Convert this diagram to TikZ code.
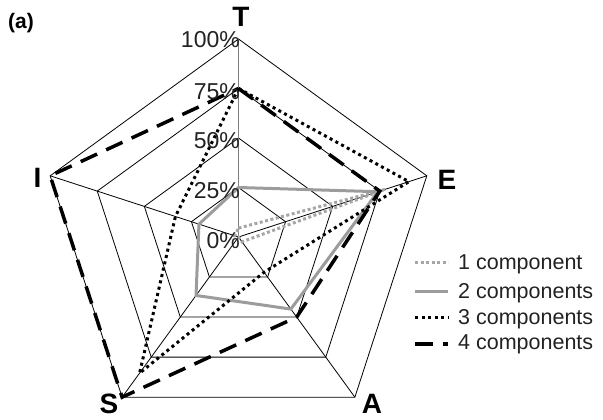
\documentclass[tikz,border=0pt]{standalone}
\usepackage{fontspec}
\setmainfont{Liberation Sans}
\definecolor{lgray}{HTML}{A6A6A6}
\definecolor{mgray}{HTML}{9C9C9C}
\definecolor{txt}{HTML}{222222}
\tikzset{
  gridline/.style={black,line width=0.8pt},
  vaxis/.style={gray,line width=1pt},
  compone/.style={lgray,line width=3pt,dash pattern=on 3pt off 2.5pt},
  comptwo/.style={mgray,line width=3pt},
  compthree/.style={black,line width=3pt,dash pattern=on 3pt off 3.5pt},
  compfour/.style={black,line width=3.5pt,dash pattern=on 18pt off 10pt},
  pct/.style={anchor=east,inner sep=0pt,text=txt,font=\fontsize{23}{27}\selectfont},
  axlab/.style={inner sep=0pt,font=\fontsize{28}{32}\selectfont\bfseries},
  legtext/.style={anchor=west,inner sep=0pt,text=txt,font=\fontsize{21.5}{25}\selectfont}
}
\begin{document}
\begin{tikzpicture}[x=1pt,y=1pt]
\useasboundingbox (-238.5,-183) rectangle (364.5,237);
\def\R{198}
\coordinate (C) at (0,0);
% grid pentagons
\foreach \f in {0.25,0.5,0.75,1}{
  \draw[gridline] (90:{\f*\R}) -- (18:{\f*\R}) -- (-54:{\f*\R}) -- (-126:{\f*\R}) -- (162:{\f*\R}) -- cycle;
}
% spokes
\foreach \a in {18,-54,-126,162}{
  \draw[gridline] (C) -- (\a:\R);
}
\draw[vaxis] (C) -- (90:\R);
% data series
\draw[compone] (90:{0.045*\R}) -- (18:{0.78*\R}) -- (-54:{0.03*\R}) -- (-126:{0.0*\R}) -- (162:{0.02*\R}) -- cycle;
\draw[comptwo] (90:{0.25*\R}) -- (18:{0.74*\R}) -- (-54:{0.45*\R}) -- (-126:{0.365*\R}) -- (162:{0.21*\R}) -- cycle;
\draw[compthree] (90:{0.75*\R}) -- (18:{0.905*\R}) -- (-54:{0.22*\R}) -- (-126:{0.85*\R}) -- (162:{0.335*\R}) -- cycle;
\draw[compfour] (90:{0.75*\R}) -- (18:{0.75*\R}) -- (-54:{0.5*\R}) -- (-126:{1.0*\R}) -- (162:{1.0*\R}) -- cycle;
% percent labels
\node[pct] (p0) at (1.5,-4) {0\%};
\node[pct] (p25) at (1.5,{0.25*\R-3}) {25\%};
\node[pct] (p50) at (1.5,{0.5*\R-3}) {50\%};
\node[pct] (p75) at (1.5,{0.75*\R-3}) {75\%};
\node[pct] (p100) at (1.5,{\R-1}) {100\%};
% axis labels
\node[axlab] (lT) at (2.5,220) {T};
\node[axlab] (lE) at (208.5,57) {E};
\node[axlab] (lI) at (-201,59) {I};
\node[axlab] (lS) at (-129.5,-167) {S};
\node[axlab] (lA) at (133.5,-167) {A};
\node[inner sep=0pt,font=\fontsize{21}{24}\selectfont\bfseries] (panel) at (-217.5,213.5) {(a)};
% legend
\coordinate (l1a) at (176.5,-26); \coordinate (l1b) at (209.5,-26);
\coordinate (l2a) at (176.5,-55); \coordinate (l2b) at (209.5,-55);
\coordinate (l3a) at (176.5,-81); \coordinate (l3b) at (209.5,-81);
\coordinate (l4a) at (176.5,-107); \coordinate (l4b) at (209.5,-107);
\draw[compone] (l1a) -- (l1b);
\draw[comptwo] (l2a) -- (l2b);
\draw[compthree] (l3a) -- (l3b);
\draw[compfour] (l4a) -- (l4b);
\node[legtext] (t1) at (219.5,-27) {1 component};
\node[legtext] (t2) at (219.5,-56) {2 components};
\node[legtext] (t3) at (219.5,-82) {3 components};
\node[legtext] (t4) at (219.5,-107) {4 components};
\end{tikzpicture}
\end{document}
